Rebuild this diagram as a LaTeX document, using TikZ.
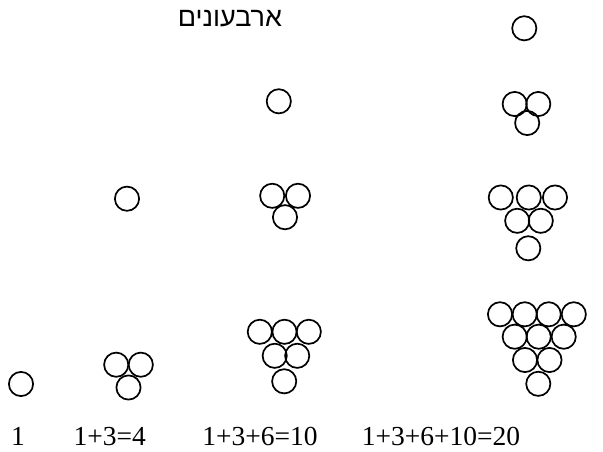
\documentclass[tikz,border=0pt]{standalone}
\usepackage{fontspec}
\setmainfont{Liberation Serif}
\newfontfamily\hebfont[Script=Hebrew]{Liberation Sans}
\TeXXeTstate=1
\begin{document}
\begin{tikzpicture}[x=1pt,y=-1pt,
  ball/.style={circle,draw=black,line width=1.7pt,minimum size=24.2pt,inner sep=0pt},
  sumlabel/.style={anchor=base,inner sep=0pt,font=\fontsize{27.5}{32}\selectfont},
  titlelabel/.style={anchor=base,inner sep=0pt,font=\hebfont\fontsize{27}{32}\selectfont}]
\useasboundingbox (0,0) rectangle (603,452);
% column 1
\node[ball] (a1) at (21,384) {};
% column 2
\node[ball] (b1) at (127,198.7) {};
\foreach \x/\y [count=\i] in {116.2/364.7,140.8/364.7,128.5/387.5}
  \node[ball] (b2-\i) at (\x,\y) {};
% column 3
\node[ball] (c1) at (278.8,101.3) {};
\foreach \x/\y [count=\i] in {272.2/195.8,298/195.8,285/217.2}
  \node[ball] (c2-\i) at (\x,\y) {};
\foreach \x/\y [count=\i] in {259.8/331.8,284.5/331.8,308.8/331.8,274.7/355.8,297.2/355.8,284.2/381.3}
  \node[ball] (c3-\i) at (\x,\y) {};
% column 4
\node[ball] (d1) at (524.3,28.3) {};
\foreach \x/\y [count=\i] in {514.7/104,538.3/104,527.2/123}
  \node[ball] (d2-\i) at (\x,\y) {};
\foreach \x/\y [count=\i] in {500.8/197.5,528.8/197.5,555/197.5,517.2/220.8,540.8/220.8,528.3/248.3}
  \node[ball] (d3-\i) at (\x,\y) {};
\foreach \x/\y [count=\i] in {500/314.3,524.7/314.3,548.7/314.3,573.8/314.3,514.7/336.7,538.7/336.7,563.7/336.7,525/360,549.5/360,538.3/383.8}
  \node[ball] (d4-\i) at (\x,\y) {};
% labels
\node[sumlabel] (s1) at (18,445) {1};
\node[sumlabel] (s2) at (109.7,445) {1+3=4};
\node[sumlabel] (s3) at (260,445) {1+3+6=10};
\node[sumlabel] (s4) at (441,445) {1+3+6+10=20};
\node[titlelabel] (title) at (230,26.7) {\beginR ארבעונים\endR};
\end{tikzpicture}
\end{document}
